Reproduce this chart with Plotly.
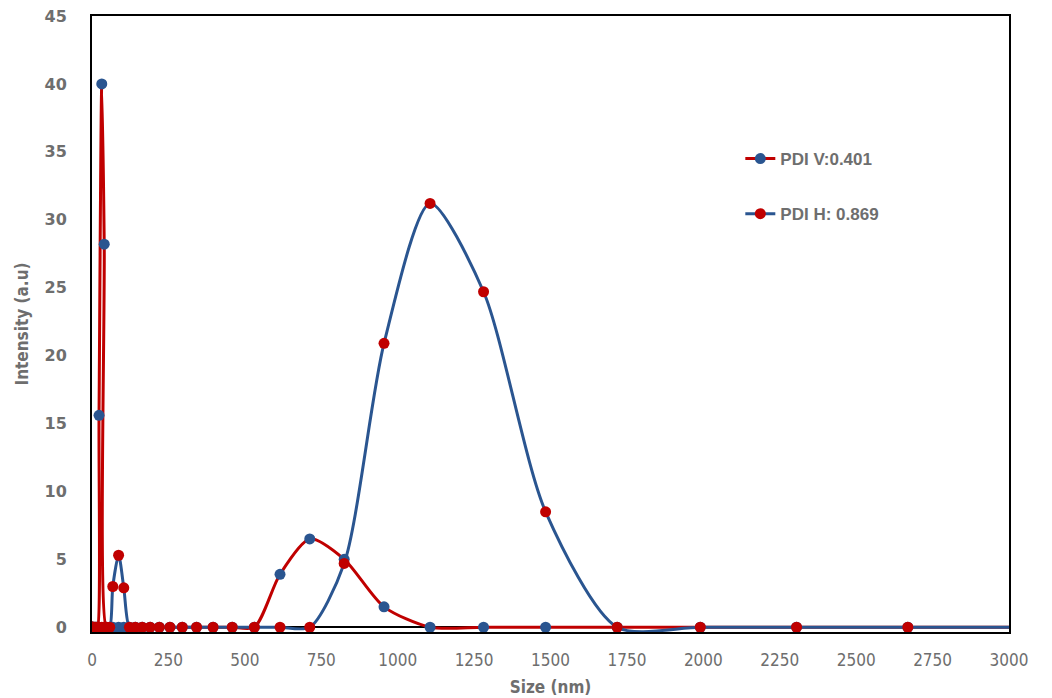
import plotly.graph_objects as go

# Size bins (nm)
size_nm = [0.4, 0.79, 1.5, 3.0, 5.6, 10.1, 14, 18, 23, 32, 40, 47, 58, 68, 87, 104,
           122.4, 141.8, 164.2, 190.1, 220.2, 255.0, 295.3, 342.0, 396.1, 458.7,
           531.2, 615.1, 712.4, 825.0, 955.4, 1106, 1281, 1484, 1718, 1990, 2305,
           2669, 3091, 3580]

# PDI V: 0.401 (red line, blue markers)
intensity_v = [0, 0, 0, 0, 0, 0, 0, 0, 15.6, 40.0, 28.2, 0, 0, 0, 0, 0,
               0, 0, 0, 0, 0, 0, 0, 0, 0, 0,
               0, 3.9, 6.5, 5.0, 1.5, 0, 0, 0, 0, 0, 0,
               0, 0, 0]

# PDI H: 0.869 (blue line, red markers)
intensity_h = [0, 0, 0, 0, 0, 0, 0, 0, 0, 0, 0, 0, 0, 3.0, 5.3, 2.9,
               0, 0, 0, 0, 0, 0, 0, 0, 0, 0,
               0, 0, 0, 4.7, 20.9, 31.2, 24.7, 8.5, 0, 0, 0,
               0, 0, 0]

name_v = "<b>PDI V:0.401</b>"
name_h = "<b>PDI H: 0.869</b>"

y_ticks = [0, 5, 10, 15, 20, 25, 30, 35, 40, 45]
x_ticks = [0, 250, 500, 750, 1000, 1250, 1500, 1750, 2000, 2250, 2500, 2750, 3000]

BLUE = "#2A5590"
RED = "#C00000"
GRAY = "#6E6E6E"
COND = "DejaVu Sans Condensed, Liberation Sans, sans-serif"

fig = go.Figure()
fig.add_trace(go.Scatter(
    x=size_nm, y=intensity_v, name=name_v, mode="lines+markers",
    line=dict(color=RED, width=3, shape="spline", smoothing=0.75),
    marker=dict(color=BLUE, size=11),
    legendgroup="v",
))
fig.add_trace(go.Scatter(
    x=size_nm, y=intensity_h, name=name_h, mode="lines+markers",
    line=dict(color=BLUE, width=3, shape="spline", smoothing=0.75),
    marker=dict(color=RED, size=11),
    legendgroup="h",
))

fig.update_layout(
    width=1052, height=698,
    margin=dict(l=84, r=51, t=8, b=74),
    plot_bgcolor="white", paper_bgcolor="white",
    showlegend=True,
    legend=dict(
        x=0.707, y=0.797, xanchor="left", yanchor="top",
        font=dict(family="Liberation Sans", size=17, color=GRAY),
        traceorder="grouped", tracegroupgap=30,
        bgcolor="rgba(0,0,0,0)", itemwidth=30,
    ),
    xaxis=dict(
        range=[0, 3000], tickvals=x_ticks, ticktext=[str(t) for t in x_ticks],
        showgrid=False, zeroline=False, automargin=False,
        showline=True, linecolor="black", linewidth=2, mirror=True,
        ticks="", ticklabelstandoff=12, ticklabeloverflow="allow",
        tickfont=dict(family=COND, size=17, color=GRAY),
        title=dict(text="<b>Size (nm)</b>", standoff=12,
                   font=dict(family=COND, size=17, color=GRAY)),
    ),
    yaxis=dict(
        range=[-0.35, 45], tickvals=y_ticks, ticktext=[f"<b>{t}</b>" for t in y_ticks],
        showgrid=False, automargin=False,
        zeroline=True, zerolinecolor="black", zerolinewidth=2,
        showline=True, linecolor="black", linewidth=2, mirror=True,
        ticks="", ticklabelstandoff=20, ticklabeloverflow="allow",
        tickfont=dict(family="DejaVu Sans", size=16, color=GRAY),
        title=dict(text="<b>Intensity (a.u)</b>", standoff=12,
                   font=dict(family=COND, size=17, color=GRAY)),
    ),
)

fig.write_html("out.html")
